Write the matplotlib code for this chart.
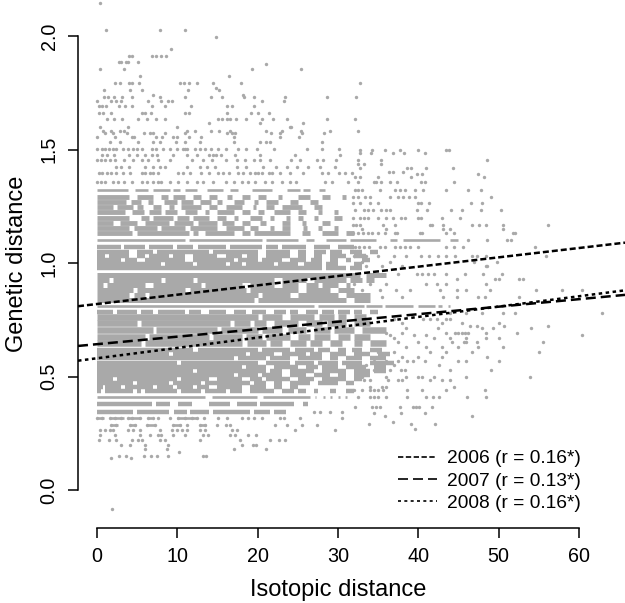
import numpy as np
import matplotlib
matplotlib.use("Agg")
import matplotlib.pyplot as plt

plt.rcParams["font.family"] = ["Liberation Sans", "DejaVu Sans"]

GRIS = "#a9a9a9"

## sparse rows: genetic distance level, isotopic distances on that level
sparse_levels = [2.147, 2.025, 1.994, 1.943, 1.913, 1.884, 1.875, 1.855, 1.823, 1.792, 1.772, 1.763, 1.74, 1.733,
                 1.714, 1.692, 1.663, 1.633, 1.619, 1.6, 1.583, 1.572, 1.554, 1.535, 1.503, 1.476, 1.454, 1.425,
                 1.395, 1.359]
sparse_x = [
    [0.4],
    [1.1, 7.8, 11.0],
    [14.8],
    [9.2],
    [4.0, 4.3, 6.8, 7.3, 8.0, 8.6],
    [2.7, 3.0, 3.6, 3.8, 5.1],
    [21.0],
    [0.4, 3.3, 19.3, 25.4],
    [5.4, 16.4],
    [2.2, 2.8, 4.0, 4.4, 5.2, 10.3, 10.8, 11.4, 12.4, 14.5, 17.9, 32.7],
    [14.8],
    [0.9, 4.1, 5.6, 11.3, 15.2],
    [7.0, 18.2],
    [0.9, 1.4, 2.1, 3.1, 4.3, 7.9, 11.0, 14.2, 15.6, 18.3, 19.6, 23.4, 28.6, 32.3],
    [0.0, 1.8, 2.4, 3.0, 6.4, 8.0, 8.9, 9.3, 20.5, 23.3],
    [0.2, 0.6, 1.1, 2.7, 3.5, 4.3, 6.9, 8.5, 11.7, 16.2, 16.8, 19.6],
    [0.2, 0.8, 1.8, 5.6, 6.0, 6.7, 11.0, 11.4, 16.2, 19.2, 20.1, 21.4],
    [1.2, 2.1, 3.1, 5.1, 6.2, 7.3, 8.5, 15.1, 15.6, 16.2, 16.6, 17.3, 18.5, 20.6, 21.9, 23.6, 28.6, 32.1],
    [13.9, 25.7, 20.3],
    [0.4, 3.9, 10.0, 24.0, 24.2],
    [0.8, 1.8, 2.9, 3.3, 11.2, 12.2, 14.2, 15.2, 16.6, 21.0, 23.0, 25.4, 29.0, 32.5],
    [1.0, 2.0, 3.7, 5.8, 6.6, 7.0, 8.5, 11.0, 16.2, 16.8, 17.2, 21.7, 22.8, 25.5, 28.3],
    [0.0, 2.2, 4.3, 4.6, 7.4, 8.1, 9.5, 10.0, 11.5, 13.0, 17.0, 22.8, 25.2],
    [1.6, 2.9, 5.1, 7.0, 7.8, 9.8, 11.0, 12.8, 17.0, 20.3, 21.0, 21.5, 28.0],
    [0.0, 0.6, 1.0, 1.5, 2.0, 2.4, 3.2, 3.8, 4.5, 5.0, 5.6, 6.8, 7.4, 8.2, 9.1, 10.0, 10.7, 10.9, 11.2, 12.2,
     12.8, 13.4, 14.2, 15.1, 16.1, 17.6, 18.6, 19.9, 22.0, 26.1, 28.0, 30.1],
    [0.6, 1.2, 2.1, 4.0, 5.0, 6.0, 6.8, 7.5, 9.5, 11.2, 12.4, 13.9, 14.4, 14.8, 15.4, 17.2, 20.3, 24.7, 30.3],
    [0.0, 0.5, 1.0, 1.6, 2.2, 3.3, 4.5, 5.6, 6.4, 7.6, 9.1, 11.8, 13.2, 14.3, 16.0, 17.4, 18.4, 19.5, 20.3, 21.5,
     24.2, 25.3, 27.4, 28.2, 29.8, 32.5],
    [2.4, 3.0, 4.0, 6.0, 7.0, 7.8, 8.5, 11.2, 12.8, 13.7, 14.7, 17.4, 18.6, 20.7, 22.3, 23.6, 24.9, 26.3, 27.8, 29.6],
    [0.2, 0.6, 1.2, 1.8, 2.4, 3.2, 4.1, 5.6, 6.0, 6.6, 7.0, 7.6, 10.1, 10.7, 11.6, 13.0, 13.9, 15.1, 15.7, 16.4, 17.6,
     18.2, 19.0, 19.7, 20.0, 20.6, 21.4, 21.8, 22.8, 24.0, 25.7, 28.0, 28.8, 30.1, 30.9, 31.7],
    [0.0, 0.5, 1.0, 2.0, 2.6, 3.3, 4.3, 5.6, 6.2, 7.0, 7.6, 8.0, 9.1, 10.1, 11.2, 12.4, 13.2, 14.5, 16.0, 17.0, 18.0,
     18.8, 19.7, 20.9, 21.8, 23.0, 24.0, 24.8, 28.4, 29.2, 31.3, 32.5],
]

## right side of the cloud
right_levels = [1.50, 1.483, 1.454, 1.435, 1.42, 1.40, 1.392, 1.38, 1.358, 1.322, 1.292, 1.266, 1.234, 1.197, 1.167,
                1.15, 1.131, 1.10, 1.069, 1.03, 1.006, 0.987, 0.95, 0.93, 0.91, 0.88, 0.85]
right_x = [
    [32.8, 34.3, 35.9, 37.7, 40.0, 43.5, 43.8],
    [32.8, 34.1, 36.9, 38.2, 40.9],
    [35.4, 48.6],
    [35.4, 32.5, 33.2],
    [32.7, 38.6, 39.1, 41.0, 44.3],
    [36.4, 36.9, 38.1],
    [39.8, 40.5, 47.5],
    [32.1, 32.7, 35.0, 39.1, 48.2],
    [34.5, 34.8, 35.4, 36.5, 37.3, 40.3, 40.8, 44.4],
    [32.1, 32.5, 33.0, 35.2, 37.1, 37.7, 38.4, 39.6, 40.6, 43.4, 46.2, 47.8],
    [31.9, 32.5, 33.4, 34.0, 36.5, 37.5, 38.1, 38.8, 39.6, 49.1],
    [31.9, 32.7, 34.0, 35.0, 40.0, 40.3, 41.3, 46.6, 48.0],
    [32.1, 33.2, 33.7, 34.4, 35.4, 36.0, 36.5, 39.8, 41.1, 44.1, 45.5, 47.8, 50.3],
    [31.9, 32.7, 33.2, 33.8, 35.0, 36.0, 36.9, 37.9, 38.3, 40.0, 40.3, 43.0, 45.2],
    [31.9, 32.3, 32.7, 35.6, 37.1, 41.5, 41.7, 43.1, 46.7, 47.6, 48.4, 50.5, 56.1],
    [33.0, 36.0, 43.1, 44.0, 50.5],
    [31.9, 32.5, 33.1, 33.7, 34.3, 35.0, 35.9, 37.1, 37.4, 40.2, 40.5, 43.5, 44.4, 51.8, 52.1],
    [46.2, 48.6, 51.0, 51.6],
    [32.1, 32.6, 33.2, 33.9, 35.2, 35.9, 37.1, 37.7, 38.4, 39.0, 40.0, 43.5, 44.4, 45.6, 54.5],
    [32.0, 33.5, 35.0, 37.0, 38.5, 40.4, 41.4, 42.5, 43.5, 44.6, 46.7, 47.3, 48.5, 55.9],
    [46.9, 49.8, 33.0, 36.5],
    [48.5, 48.6, 33.5, 35.5, 38.0],
    [32.5, 35.0, 37.5, 39.8, 40.5, 41.2, 42.0, 43.5, 45.8, 48.1, 50.4],
    [44.8, 49.6, 50.1, 52.5, 53.1],
    [32.0, 34.0, 36.0, 41.0, 42.3, 43.5, 48.5],
    [33.0, 35.2, 37.2, 39.0, 42.7, 44.8, 46.0, 48.9, 54.7, 57.9, 60.4],
    [33.0, 35.5, 38.0, 43.1, 44.8, 47.5, 48.3, 52.5],
]

## lower side of the cloud
low_levels = [0.781, 0.752, 0.734, 0.722, 0.712, 0.69, 0.683, 0.668, 0.653, 0.631, 0.609, 0.587, 0.57, 0.551, 0.529,
              0.499, 0.485, 0.452, 0.44, 0.41, 0.367, 0.338, 0.327, 0.298, 0.289, 0.27]
low_x = [
    [62.9, 44.0, 46.0, 48.0, 50.5, 52.0],
    [37.0, 40.6, 41.5, 42.3, 43.5, 44.0],
    [38.0, 43.0, 45.5, 50.0],
    [46.5, 47.3, 56.1, 50.7],
    [38.5, 42.5, 48.0, 49.3, 54.1],
    [36.0, 38.0, 43.5, 44.6, 45.0, 45.4, 45.8, 46.2, 48.4, 52.3],
    [36.5, 39.5, 41.0, 60.4],
    [37.0, 42.0, 44.0, 46.0, 48.4, 50.0],
    [37.5, 40.0, 44.2, 45.7, 46.0, 47.3, 55.5],
    [38.5, 41.0, 43.0, 45.0, 47.5, 50.6],
    [35.0, 37.0, 41.5, 43.5, 46.7, 55.0],
    [35.5, 38.0, 40.0, 43.0, 48.6],
    [34.5, 36.0, 37.5, 38.6, 39.4, 40.8, 44.9, 46.0, 50.0],
    [33.5, 35.5, 37.0, 42.6],
    [33.0, 34.5, 36.5, 37.8, 38.3, 43.9, 49.1],
    [33.0, 36.0, 38.5, 40.0, 40.5, 42.0, 46.0, 53.9],
    [33.3, 34.0, 36.2, 37.5, 38.0, 41.5, 44.0, 43.0],
    [34.0, 35.5, 36.0, 44.5],
    [32.0, 33.0, 34.0, 34.5, 35.0, 35.6, 38.6, 40.5, 43.5, 48.3],
    [32.5, 34.0, 34.5, 35.0, 36.0, 38.6, 41.0, 41.9, 42.6, 46.1, 48.5],
    [32.1, 34.2, 34.7, 35.2, 37.7, 39.3, 39.7, 40.1, 41.7],
    [34.5, 37.8, 40.8],
    [35.9, 46.7],
    [36.8],
    [33.9, 39.1, 42.1],
    [39.6],
]

## left side below the densest rows
under_levels = [0.345, 0.316, 0.287, 0.265, 0.243, 0.22, 0.199, 0.179, 0.166, 0.15, 0.14, -0.082]
under_x = [
    [27.0, 27.8, 29.0, 30.5],
    [0.0, 0.6, 1.6, 2.2, 3.0, 3.8, 4.4, 5.4, 6.4, 7.0, 7.6, 9.1, 10.1, 11.0, 11.8, 12.4, 13.3, 15.1, 16.2, 18.0,
     18.8, 19.5, 20.5, 22.8, 23.3, 25.3, 30.5],
    [1.8, 2.4, 4.1, 4.7, 6.2, 7.2, 9.5, 10.3, 11.2, 12.8, 13.5, 14.9, 16.0, 16.6, 22.2, 23.6, 25.5, 27.4],
    [0.4, 1.0, 1.6, 2.0, 3.9, 4.5, 5.4, 7.8, 9.3, 10.0, 10.6, 11.2, 12.8, 13.4, 16.8, 17.4, 24.7, 29.6],
    [0.4, 2.2, 5.4, 6.6, 7.6, 8.0, 9.5, 11.0, 13.2, 13.8, 16.6, 17.2, 18.8, 19.8],
    [0.3, 1.5, 2.4, 4.3, 5.1, 5.6, 7.8, 8.5, 12.8, 17.8, 21.5, 22.6, 23.4],
    [3.0, 4.1, 6.0, 8.9, 18.0, 19.4, 19.8],
    [6.0, 8.7, 17.0, 21.0],
    [10.2],
    [2.7, 3.6, 5.8, 6.7, 7.5, 8.8, 13.2, 13.6],
    [1.8, 4.2],
    [1.9],
]

## rows so dense that they read as runs of touching dots: start, end, start, end...
band_levels = [1.322, 1.293, 1.271, 1.249, 1.226, 1.197, 1.175, 1.153, 1.134, 1.102, 1.069, 1.05, 1.033, 1.014, 0.996,
               0.977, 0.948, 0.925, 0.903, 0.881, 0.859, 0.837, 0.813, 0.786, 0.764, 0.735, 0.705, 0.676, 0.646,
               0.617, 0.6, 0.58, 0.561, 0.544, 0.526, 0.507, 0.488, 0.47, 0.453, 0.438, 0.411, 0.378, 0.345, 0.316,
               0.287]
band_runs = [
    [0, 3.9, 4.7, 6.4, 7, 9.1, 9.4, 10.3, 11, 12.4, 13.7, 15.7, 16.5, 17.6, 19.3, 21.8, 23.6, 25.3, 25.7, 26.5, 27.6, 28.4],
    [0, 4, 5, 7, 8, 8.8, 9.5, 11, 12, 13, 14, 15, 16.2, 16.8, 18, 19, 20, 21, 22.5, 23, 25, 26.5, 28, 29, 30.5, 31],
    [0, 3.6, 4.2, 5.5, 6.3, 7, 8.4, 10, 10.5, 12, 12.8, 14.2, 15, 15.6, 17, 18.3, 19.5, 20, 21, 22.5, 24, 25, 26.5, 27.5],
    [0, 2, 2.5, 4.5, 5, 5.7, 7, 8, 9, 9.6, 10.5, 13, 14, 15, 16, 18, 19.4, 19.8, 21, 22, 23, 25.5, 27, 28],
    [0, 3.5, 4.3, 5.8, 6.5, 8, 8.5, 10, 11, 12.5, 13.5, 14, 15, 17, 18, 19, 20, 20.8, 22, 24, 25, 26, 27.5, 28, 29.5, 30],
    [0, 4, 5.5, 6.5, 7, 9.5, 10, 11.5, 12, 14, 15, 16, 17, 17.6, 19, 20.5, 21.5, 22, 23.5, 24, 25, 25.6, 27, 27.5, 29.5, 30.5],
    [0, 2, 2.8, 5, 6, 9, 9.6, 12, 12.6, 15, 15.6, 17, 18, 19, 20.3, 21, 23, 24, 25.5, 26, 28, 29],
    [0, 4, 4.6, 7.5, 8, 11, 11.6, 15, 16, 18.3, 19, 20, 21.6, 22, 23, 24, 25.6, 26.1, 27.5, 28, 29.5, 30],
    [0, 4.3, 5, 11.5, 12, 12.6, 13.5, 17, 18, 19, 19.6, 24, 25.5, 26.5, 28, 30, 31, 32],
    [0, 11, 11.4, 20.5, 21, 25, 26, 27, 28.5, 31, 31.5, 34.8, 36.5, 37.3, 38.1, 42.7, 44, 45],
    [0, 3, 3.4, 6, 6.5, 9.5, 10, 12, 12.6, 16, 16.5, 20.5, 21, 22.5, 23, 26, 27, 29, 30, 32],
    [0, 4, 5, 7, 7.5, 14, 14.5, 20, 21, 24, 25, 26, 27, 28.5, 29, 30.5, 31.5, 33, 34, 35],
    [0, 1, 1.5, 4, 5, 6, 6.5, 9, 9.5, 11, 12, 15, 16, 18, 18.7, 20, 21, 24, 25, 26, 27, 28, 29, 31, 32, 33.5],
    [0, 3, 3.5, 5, 6, 11, 12, 17, 17.6, 20, 20.5, 23, 24, 26, 26.6, 28, 29, 30, 31, 31.6, 33, 34],
    [0, 8, 8.5, 12, 12.5, 16, 16.5, 18, 18.6, 22, 22.5, 25, 25.8, 28, 28.5, 30, 32, 33],
    [0, 28, 28.5, 31, 31.5, 33],
    [0, 32.8, 33.5, 36],
    [0, 1.5, 2, 8, 8.5, 12, 12.5, 22, 23, 26, 27, 31, 31.5, 33, 33.5, 34.5],
    [0, 0.8, 1.3, 6, 7, 13, 13.5, 18, 19, 22, 23, 25, 26, 27.5, 28, 30, 31, 31.5],
    [0, 4.5, 5, 11, 11.6, 18.5, 19, 25, 26, 29, 30, 32],
    [0, 4, 4.6, 6, 6.5, 20, 20.5, 24, 25, 30, 31, 34],
    [0, 19.5, 20, 31, 32, 34],
    [0, 27, 27.5, 33.3, 33.5, 35.5, 35.9, 39.4, 40, 42.1, 42.5, 43, 43.7, 44],
    [0, 2, 2.5, 5, 5.5, 7, 7.6, 11, 11.5, 13, 14, 16, 17, 18.5, 19.3, 21, 22, 23.5, 24, 25, 26, 27.5, 28, 29.5, 30, 31.5, 32, 33, 34, 35],
    [0, 20, 20.5, 23, 24, 27, 27.6, 29.5, 30, 31, 32, 33.5],
    [0, 5, 5.5, 16.5, 17, 19, 19.5, 21, 22, 25, 26, 28, 28.6, 31, 32, 34],
    [0, 7, 7.4, 15, 15.5, 20, 20.5, 23, 23.8, 26, 27, 29, 29.5, 32, 33, 36],
    [0, 6, 6.5, 14, 14.5, 18, 18.5, 20.5, 21, 24, 25, 26.5, 27, 29, 30, 31.5, 32, 34],
    [0, 5.5, 6, 18, 18.7, 21, 21.5, 23, 24, 26, 26.5, 28, 29, 30.5, 32, 33, 34, 36],
    [0, 12, 12.6, 20, 20.5, 24, 24.7, 27, 27.5, 29, 30, 31, 31.8, 33, 34, 35.5],
    [0, 9, 9.5, 18.5, 19, 22, 23, 26, 26.5, 28, 29, 31, 32, 34, 35, 36.5],
    [0, 17, 17.5, 21, 21.5, 24, 25, 28, 29, 30, 31, 33, 34, 36],
    [0, 10, 10.5, 20, 21, 24, 24.7, 27, 27.5, 30, 30.5, 33, 34, 37],
    [0, 18, 18.6, 21, 22, 25, 26, 27.5, 28, 30, 31, 33.5, 34.5, 36],
    [0, 12, 12.5, 21, 21.5, 23, 24, 27, 28, 31, 32, 34, 34.5, 36],
    [0, 17, 17.5, 20, 20.5, 23, 24, 26, 27, 29, 30, 31, 32, 34],
    [0, 2, 2.5, 10, 10.5, 14, 15, 18, 19, 20.5, 21, 24, 25, 27, 28, 31, 32, 33],
    [0, 4.5, 5, 9, 9.5, 13, 13.5, 19, 19.5, 21, 22, 23, 24, 26.5, 27.5, 30, 31, 32],
    [0, 0.7, 1, 3, 3.5, 7, 7.5, 9.5, 10, 12, 12.5, 14, 15, 18, 19, 21, 22, 23, 24, 25],
    [0, 0.5, 1, 4.5, 5, 5.5, 6, 10, 10.5, 13, 13.5, 16, 16.5, 18, 19, 22, 23, 24.5, 25, 26, 27, 27.5, 29, 29.7, 31, 32],
    [0, 13.5, 14.3, 19.9, 20.7, 26.5, 27.1, 27.3, 28.2, 28.4, 29, 29.2, 30, 30.2, 30.9, 31.1],
    [0, 6.8, 7.4, 9.1, 10.1, 11.8, 13.9, 16.6, 17.4, 19.9, 20.3, 24.5, 25.7, 26.3],
    [0, 4.5, 5, 9, 9.6, 11.2, 11.6, 14, 14.5, 19, 19.6, 21.5, 22, 23.5],
    [0, 0.9, 1.6, 3.3, 3.9, 5.3, 6.4, 6.9, 10, 12.4],
    [1.8, 2.6, 4.1, 4.8, 6.2, 7.2, 9.5, 10.4, 12.8, 13.6],
]
## rows that stay a single dot high, with white stripes beside them
single_rows = [1.322, 1.102, 0.813, 0.411, 0.316, 0.287]

## regression lines, end to end
line_x = [-2.37, 65.75]
line_2006 = [0.81, 1.09]
line_2007 = [0.635, 0.86]
line_2008 = [0.57, 0.88]
line_labels = ["2006 (r = 0.16*)", "2007 (r = 0.13*)", "2008 (r = 0.16*)"]

x_ticks = [0, 10, 20, 30, 40, 50, 60]
y_ticks = [0.0, 0.5, 1.0, 1.5, 2.0]

fig = plt.figure(figsize=(6.25, 6.03), dpi=100)
ax = fig.add_axes([78 / 625, 75 / 603, 547 / 625, 528 / 603])
ax.set_xlim(-2.37, 65.75)
ax.set_ylim(-0.167, 2.159)

## dense rows first, single dots on top
for nivel, run in zip(band_levels, band_runs):
    if nivel in single_rows:
        grosor = 1.9
    elif nivel > 1.12:
        grosor = 3.5
    elif 0.62 < nivel < 0.77:
        grosor = 4.7
    elif 0.83 < nivel < 0.95:
        grosor = 3.6
    else:
        grosor = 3.2
    ax.hlines([nivel] * (len(run) // 2), run[::2], run[1::2], color=GRIS, lw=grosor, zorder=1)

for niveles, xs in [(sparse_levels, sparse_x), (right_levels, right_x), (low_levels, low_x), (under_levels, under_x)]:
    for nivel, fila in zip(niveles, xs):
        ax.scatter(fila, [nivel] * len(fila), s=6, color=GRIS, linewidths=0, zorder=1)

ax.plot(line_x, line_2006, color="k", lw=1.8, ls=(0, (2.4, 1.2)), zorder=3, label=line_labels[0])
ax.plot(line_x, line_2007, color="k", lw=1.8, ls=(0, (4, 2)), zorder=3, label=line_labels[1])
ax.plot(line_x, line_2008, color="k", lw=1.8, ls=(0, (1.4, 1.4)), zorder=3, label=line_labels[2])

for lado in ["top", "right"]:
    ax.spines[lado].set_visible(False)
ax.spines["left"].set_bounds(0, 2)
ax.spines["bottom"].set_bounds(0, 60)
ax.spines["left"].set_linewidth(1.1)
ax.spines["bottom"].set_linewidth(1.1)

ax.set_xticks(x_ticks)
ax.set_yticks(y_ticks)
ax.set_yticklabels(["%.1f" % v for v in y_ticks], rotation=90, va="center")
ax.tick_params(length=7, width=1.1, labelsize=14.2, pad=7)
ax.set_xlabel("Isotopic distance", fontsize=17)
ax.set_ylabel("Genetic distance", fontsize=17, labelpad=8)
ax.xaxis.set_label_coords(0.475, -0.096)

ley = ax.legend(loc="lower right", bbox_to_anchor=(0.936, 0.012), frameon=False, fontsize=13.8,
                handlelength=2.0, handletextpad=0.52, labelspacing=0.26, borderpad=0)
## legend keys are drawn finer than the lines themselves
estilos = [(0, (3.2, 1.5)), (0, (6, 3)), (0, (1.8, 2))]
for h, estilo in zip(ley.get_lines(), estilos):
    h.set_linewidth(1.2)
    h.set_linestyle(estilo)

fig.savefig("out.png", dpi=100)
